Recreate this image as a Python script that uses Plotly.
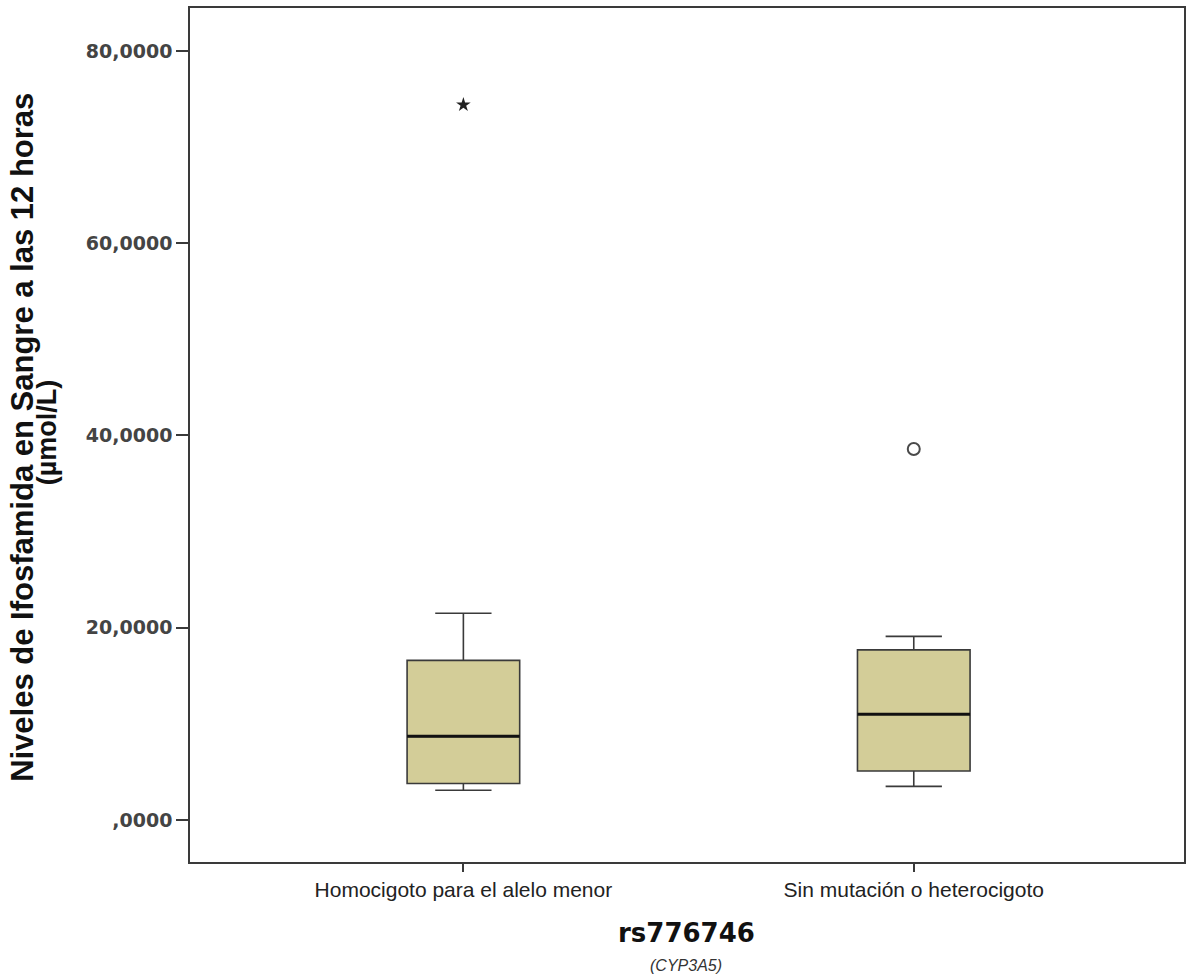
import plotly.graph_objects as go

# Genotype groups for rs776746 (CYP3A5)
categories = ["Homocigoto para el alelo menor", "Sin mutación o heterocigoto"]

# Box-plot summary statistics (µmol/L)
lower_whisker = [3.1, 3.5]
q1 = [3.8, 5.1]
median = [8.7, 11.0]
q3 = [16.6, 17.7]
upper_whisker = [21.5, 19.1]

# Outliers: extreme value (star) in group 0, mild outlier (circle) in group 1
extreme_group = [0]
extreme_value = [74.4]
mild_group = [1]
mild_value = [38.6]

# Y axis ticks
y_ticks = [0, 20, 40, 60, 80]
y_ticktext = [",0000", "20,0000", "40,0000", "60,0000", "80,0000"]

BOX_WIDTH = 0.25
FILL = "#D3CD98"
EDGE = "#3a3a3a"

fig = go.Figure()

for i, cat in enumerate(categories):
    fig.add_trace(go.Box(
        x=[i],
        q1=[q1[i]], median=[median[i]], q3=[q3[i]],
        lowerfence=[lower_whisker[i]], upperfence=[upper_whisker[i]],
        width=BOX_WIDTH, whiskerwidth=0.5,
        fillcolor=FILL,
        line=dict(color=EDGE, width=1.6),
        boxpoints=False,
        hoverinfo="skip",
        showlegend=False,
    ))
    # heavier median line drawn on top of the box
    fig.add_trace(go.Scatter(
        x=[i - BOX_WIDTH / 2, i + BOX_WIDTH / 2],
        y=[median[i], median[i]],
        mode="lines",
        line=dict(color="#111111", width=3),
        hoverinfo="skip",
        showlegend=False,
    ))

fig.add_trace(go.Scatter(
    x=extreme_group, y=extreme_value, mode="markers",
    marker=dict(symbol="star", size=11, color="#222222",
                line=dict(width=0)),
    showlegend=False,
))
fig.add_trace(go.Scatter(
    x=mild_group, y=mild_value, mode="markers",
    marker=dict(symbol="circle-open", size=12, color="#4a4a4a",
                line=dict(width=2, color="#4a4a4a")),
    showlegend=False,
))

fig.update_layout(
    width=1187, height=976,
    margin=dict(l=190, r=1, t=8, b=114),
    paper_bgcolor="white",
    plot_bgcolor="white",
    showlegend=False,
    xaxis=dict(
        range=[-0.607, 1.60],
        tickvals=list(range(len(categories))),
        ticktext=categories,
        ticks="outside", ticklen=8, tickwidth=1.5, tickcolor=EDGE,
        showgrid=False, zeroline=False,
        showline=True, mirror=True, linecolor=EDGE, linewidth=1.6,
        tickfont=dict(family="Liberation Sans", size=21, color="#222222"),
    ),
    yaxis=dict(
        range=[-4.37, 84.47],
        tickvals=y_ticks,
        ticktext=y_ticktext,
        ticks="outside", ticklen=12, tickwidth=1.5, tickcolor=EDGE,
        showgrid=False, zeroline=False,
        showline=True, mirror=True, linecolor=EDGE, linewidth=1.6,
        tickfont=dict(family="DejaVu Sans", size=19, color="#444444",
                      weight="bold"),
    ),
    annotations=[
        dict(text="<b>Niveles de Ifosfamida en Sangre a las 12 horas</b>",
             xref="paper", yref="paper", x=-0.1687, y=0.497,
             xanchor="center", yanchor="middle", textangle=-90, showarrow=False,
             font=dict(family="Liberation Sans", size=31, color="#111111")),
        dict(text="<b>(µmol/L)</b>",
             xref="paper", yref="paper", x=-0.1436, y=0.5035,
             xanchor="center", yanchor="middle", textangle=-90, showarrow=False,
             font=dict(family="Liberation Sans", size=27, color="#111111")),
        dict(text="<b>rs776746</b>",
             xref="paper", yref="paper", x=0.499, y=-0.083,
             xanchor="center", yanchor="middle", showarrow=False,
             font=dict(family="DejaVu Sans", size=26, color="#111111")),
        dict(text="<i>(CYP3A5)</i>",
             xref="paper", yref="paper", x=0.499, y=-0.121,
             xanchor="center", yanchor="middle", showarrow=False,
             font=dict(family="Liberation Sans", size=16, color="#333333")),
    ],
)

fig.write_html("out.html")
